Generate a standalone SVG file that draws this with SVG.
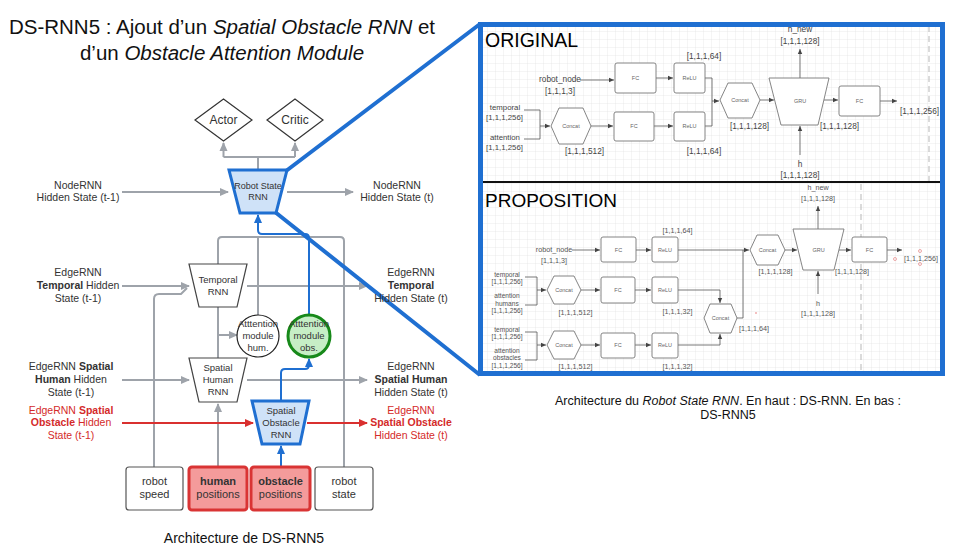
<svg xmlns="http://www.w3.org/2000/svg" width="958" height="550" viewBox="0 0 958 550">
<defs>
<style>
text{font-family:"Liberation Sans",Arial,sans-serif}
.t{font-size:10.5px;fill:#333;text-anchor:middle}
.tr{font-size:10.5px;fill:#d42a2a;text-anchor:middle}
.n{font-size:9.5px;fill:#333;text-anchor:middle}
.bx{font-size:11px;fill:#333;text-anchor:middle}
.b{font-weight:bold}
.i{font-style:italic}
.g{fill:none;stroke:#9ea3aa;stroke-width:2}
.bl{fill:none;stroke:#1f6fd1;stroke-width:2}
.rd{fill:none;stroke:#d9302f;stroke-width:2}
.trap{fill:#fff;stroke:#444;stroke-width:1.2}
.btrap{fill:#cfe2f8;stroke:#1f6fd1;stroke-width:3}
.red{fill:#f49b9b;stroke:#d93434;stroke-width:3}
.s{font-size:8.3px;fill:#444;text-anchor:middle}
.s2{font-size:7.8px;fill:#444;text-anchor:middle}
.p{font-size:7.2px;fill:#555;text-anchor:middle}
.q{font-size:6.6px;fill:#555;text-anchor:middle}
.tiny{font-size:5.5px;fill:#666;text-anchor:middle}
.box{fill:#fff;stroke:#777;stroke-width:0.9}
.ln{fill:none;stroke:#555;stroke-width:0.8}
.zoom{fill:none;stroke:#1f6fd1;stroke-width:4}
.dash{fill:none;stroke:#c4c4c4;stroke-width:1.2;stroke-dasharray:6 4}
</style>
<marker id="ag" markerWidth="10" markerHeight="10" refX="8" refY="5" orient="auto" markerUnits="userSpaceOnUse"><path d="M0,1 L9,5 L0,9 z" fill="#9ea3aa"/></marker>
<marker id="ab" markerWidth="10" markerHeight="10" refX="8" refY="5" orient="auto" markerUnits="userSpaceOnUse"><path d="M0,1 L9,5 L0,9 z" fill="#1f6fd1"/></marker>
<marker id="ar" markerWidth="10" markerHeight="10" refX="8" refY="5" orient="auto" markerUnits="userSpaceOnUse"><path d="M0,1 L9,5 L0,9 z" fill="#d9302f"/></marker>
<marker id="ak" markerWidth="6" markerHeight="6" refX="5" refY="3" orient="auto" markerUnits="userSpaceOnUse"><path d="M0,0.8 L5,3 L0,5.2 z" fill="#444"/></marker>
<pattern id="grid" width="8" height="8" patternUnits="userSpaceOnUse"><path d="M8,0 V8 M0,8 H8" stroke="#e3e3e3" stroke-width="0.7" fill="none"/></pattern>
</defs>
<rect width="958" height="550" fill="#fff"/>

<g id="title">
<text x="222" y="34" font-size="20.5" fill="#111" text-anchor="middle">DS-RNN5 : Ajout d’un <tspan class="i">Spatial Obstacle RNN</tspan> et</text>
<text x="222" y="60" font-size="20.5" fill="#111" text-anchor="middle">d’un <tspan class="i">Obstacle Attention Module</tspan></text>
</g>

<!-- Right panel background -->
<g id="panel">
<rect x="480" y="24" width="463" height="350" fill="#fff"/>
<rect x="480" y="24" width="463" height="350" fill="url(#grid)"/>
<path class="dash" d="M929,26 V181"/>
<path class="dash" d="M861,184 V372"/>
<path d="M482,182 H942" stroke="#111" stroke-width="2"/>
</g>

<!-- Left diagram connectors -->
<g id="connectors">
<path class="g" d="M258,170 V157 M223.5,157 H295"/>
<path class="g" d="M223.5,157 V143" marker-end="url(#ag)"/>
<path class="g" d="M295,157 V143" marker-end="url(#ag)"/>
<path class="g" d="M122,192 H228" marker-end="url(#ag)"/>
<path class="g" d="M287,192 H353" marker-end="url(#ag)"/>
<path class="g" d="M122,286 H189" marker-end="url(#ag)"/>
<path class="g" d="M247,286 H367" marker-end="url(#ag)"/>
<path class="g" d="M154,467 V299 Q154,294 159,294 H181 L187,288"/>
<path class="g" d="M344,467 V241 Q344,237 340,237 H222 Q218,237 218,241 V264"/>
<path class="g" d="M218,307 V358"/>
<path class="g" d="M218,335 H237" marker-end="url(#ag)"/>
<path class="g" d="M218,467 V404" marker-end="url(#ag)"/>
<path class="g" d="M258,315 V236"/>
<path class="g" d="M122,380 H189" marker-end="url(#ag)"/>
<path class="g" d="M247,380 H367" marker-end="url(#ag)"/>
<path class="bl" d="M309,315 V238 Q309,234 305,234 H262 Q258,234 258,230 V215" marker-end="url(#ab)"/>
<path class="bl" d="M281,467 V446" marker-end="url(#ab)"/>
<path class="bl" d="M281,401 V373 Q281,369 285,369 H305 Q309,369 309,365 V359" marker-end="url(#ab)"/>
<path class="rd" d="M122,423 H253" marker-end="url(#ar)"/>
<path class="rd" d="M307,423 H367" marker-end="url(#ar)"/>
<path class="zoom" d="M286,171 L480,24 M275,212 L480,375"/>
</g>

<g id="actor"><polygon points="195,120 223.5,99 252,120 223.5,141" fill="#fff" stroke="#333" stroke-width="1.2"/><text x="223.5" y="124" font-size="12" fill="#333" text-anchor="middle">Actor</text></g>
<g id="critic"><polygon points="267,120 295,99 323,120 295,141" fill="#fff" stroke="#333" stroke-width="1.2"/><text x="295" y="124" font-size="12" fill="#333" text-anchor="middle">Critic</text></g>

<g id="robot-state-rnn"><polygon class="btrap" points="229,170 287,170 276,213 240,213"/><text x="258" y="189" font-size="9" fill="#333" text-anchor="middle">Robot State</text><text x="258" y="200" font-size="9" fill="#333" text-anchor="middle">RNN</text></g>

<g id="node-labels">
<text class="t" x="78" y="189">NodeRNN</text><text class="t" x="78" y="201">Hidden State (t-1)</text>
<text class="t" x="397" y="189">NodeRNN</text><text class="t" x="397" y="201">Hidden State (t)</text>
<text class="t" x="78" y="276">EdgeRNN</text><text class="t" x="78" y="289"><tspan class="b">Temporal</tspan> Hidden</text><text class="t" x="78" y="302">State (t-1)</text>
<text class="t" x="411" y="276">EdgeRNN</text><text class="t b" x="411" y="289">Temporal</text><text class="t" x="411" y="302">Hidden State (t)</text>
<text class="t" x="71" y="370">EdgeRNN <tspan class="b">Spatial</tspan></text><text class="t" x="71" y="383"><tspan class="b">Human</tspan> Hidden</text><text class="t" x="71" y="396">State (t-1)</text>
<text class="t" x="411" y="370">EdgeRNN</text><text class="t b" x="411" y="383">Spatial Human</text><text class="t" x="411" y="396">Hidden State (t)</text>
<text class="tr" x="71" y="414">EdgeRNN <tspan class="b">Spatial</tspan></text><text class="tr" x="71" y="426"><tspan class="b">Obstacle</tspan> Hidden</text><text class="tr" x="71" y="439">State (t-1)</text>
<text class="tr" x="411" y="414">EdgeRNN</text><text class="tr b" x="411" y="426">Spatial Obstacle</text><text class="tr" x="411" y="439">Hidden State (t)</text>
</g>

<g id="temporal-rnn"><polygon class="trap" points="189,264 247,264 237,307 199,307"/><text class="n" x="218" y="283">Temporal</text><text class="n" x="218" y="295">RNN</text></g>
<g id="attention-hum"><circle cx="258" cy="336" r="21" fill="#fff" stroke="#222" stroke-width="1.2"/><text class="n" x="258" y="327">Atttention</text><text class="n" x="258" y="339">module</text><text class="n" x="258" y="351">hum.</text></g>
<g id="attention-obs"><circle cx="309" cy="336" r="21" fill="#c6eec6" stroke="#17891a" stroke-width="3"/><text class="n" x="309" y="327">Atttention</text><text class="n" x="309" y="339">module</text><text class="n" x="309" y="351">obs.</text></g>
<g id="spatial-human-rnn"><polygon class="trap" points="189,358 247,358 237,402 199,402"/><text class="n" x="218" y="371">Spatial</text><text class="n" x="218" y="383">Human</text><text class="n" x="218" y="395">RNN</text></g>
<g id="spatial-obstacle-rnn"><polygon class="btrap" points="252,401 309,401 300,444 262,444"/><text class="n" x="281" y="414">Spatial</text><text class="n" x="281" y="426">Obstacle</text><text class="n" x="281" y="438">RNN</text></g>

<g id="robot-speed"><rect x="126" y="467" width="57" height="43" rx="3" fill="#fff" stroke="#555" stroke-width="1.2"/><text class="bx" x="154.5" y="485">robot</text><text class="bx" x="154.5" y="498">speed</text></g>
<g id="human-positions"><rect class="red" x="189" y="467" width="58" height="43" rx="3"/><text class="bx b" x="218" y="485">human</text><text class="bx" x="218" y="498">positions</text></g>
<g id="obstacle-positions"><rect class="red" x="251" y="467" width="59" height="43" rx="3"/><text class="bx b" x="280.5" y="485">obstacle</text><text class="bx" x="280.5" y="498">positions</text></g>
<g id="robot-state"><rect x="315" y="467" width="58" height="43" rx="3" fill="#fff" stroke="#555" stroke-width="1.2"/><text class="bx" x="344" y="485">robot</text><text class="bx" x="344" y="498">state</text></g>

<text x="244" y="543" font-size="14" fill="#111" text-anchor="middle">Architecture de DS-RNN5</text>

<!-- ORIGINAL -->
<g id="original">
<text x="485" y="47" font-size="19.5" fill="#000">ORIGINAL</text>
<g class="ln">
<path d="M580,80 H614" marker-end="url(#ak)"/>
<path d="M656,78 H673" marker-end="url(#ak)"/>
<path d="M524,110 H540 V139 H524"/>
<path d="M540,126 H550" marker-end="url(#ak)"/>
<path d="M591,126 H613" marker-end="url(#ak)"/>
<path d="M654,126 H673" marker-end="url(#ak)"/>
<path d="M705,78 H712 V126 H705"/>
<path d="M712,101 H719" marker-end="url(#ak)"/>
<path d="M760,100 H774" marker-end="url(#ak)"/>
<path d="M800,78 V49" marker-end="url(#ak)"/>
<path d="M800,155 V126" marker-end="url(#ak)"/>
<path d="M824,100 H838" marker-end="url(#ak)"/>
<path d="M880,101 H897" marker-end="url(#ak)"/>
</g>
<text class="s" x="560" y="82">robot_node</text><text class="s" x="560" y="94">[1,1,1,3]</text>
<rect class="box" x="615" y="63" width="41" height="30" rx="2"/><text class="tiny" x="635.5" y="80">FC</text>
<rect class="box" x="674" y="63" width="31" height="30" rx="2"/><text class="tiny" x="689.5" y="80">ReLU</text>
<text class="s" x="704" y="59">[1,1,1,64]</text>
<text class="s2" x="505" y="110">temporal</text><text class="s2" x="504.5" y="120">[1,1,1,256]</text>
<text class="s2" x="505" y="140">attention</text><text class="s2" x="504.5" y="150">[1,1,1,256]</text>
<polygon class="box" points="551,126 559,108 583,108 591,126 583,144 559,144"/><text class="tiny" x="571" y="128">Concat</text>
<text class="s" x="584.5" y="154">[1,1,1,512]</text>
<rect class="box" x="614" y="112" width="40" height="29" rx="2"/><text class="tiny" x="634" y="128">FC</text>
<rect class="box" x="674" y="112" width="31" height="29" rx="2"/><text class="tiny" x="689.5" y="128">ReLU</text>
<text class="s" x="704" y="154">[1,1,1,64]</text>
<polygon class="box" points="720,100 728,83 752,83 760,100 752,118 728,118"/><text class="tiny" x="740" y="102">Concat</text>
<text class="s" x="749.5" y="129">[1,1,1,128]</text>
<polygon class="box" points="769,78 829,78 818,125 781,125"/><text class="tiny" x="800" y="103">GRU</text>
<text class="s" x="800" y="32">h_new</text><text class="s" x="800" y="44">[1,1,1,128]</text>
<text class="s" x="800" y="167">h</text><text class="s" x="800" y="178">[1,1,1,128]</text>
<text class="s" x="839.5" y="129">[1,1,1,128]</text>
<rect class="box" x="839" y="86" width="41" height="30" rx="2"/><text class="tiny" x="859.5" y="103">FC</text>
<text class="s" x="919.5" y="114">[1,1,1,256]</text>
</g>

<!-- PROPOSITION -->
<g id="proposition">
<text x="485" y="207" font-size="19" fill="#000">PROPOSITION</text>
<g class="ln">
<path d="M572,250 H600" marker-end="url(#ak)"/>
<path d="M636,250 H651" marker-end="url(#ak)"/>
<path d="M678,250 H749" marker-end="url(#ak)"/>
<path d="M785,250 H797" marker-end="url(#ak)"/>
<path d="M818,229 V206" marker-end="url(#ak)"/>
<path d="M818,294 V271" marker-end="url(#ak)"/>
<path d="M839,250 H851" marker-end="url(#ak)"/>
<path d="M887,250 H902" marker-end="url(#ak)"/>
<path d="M525,277 H537 V305 H525"/>
<path d="M537,290 H546" marker-end="url(#ak)"/>
<path d="M581,290 H600" marker-end="url(#ak)"/>
<path d="M635,290 H651" marker-end="url(#ak)"/>
<path d="M678,290 H720 V303" marker-end="url(#ak)"/>
<path d="M737,318 H743 V250"/>
<path d="M525,332 H537 V360 H525"/>
<path d="M537,345 H546" marker-end="url(#ak)"/>
<path d="M581,345 H600" marker-end="url(#ak)"/>
<path d="M635,345 H651" marker-end="url(#ak)"/>
<path d="M678,345 H720 V334" marker-end="url(#ak)"/>
</g>
<text class="p" x="677.5" y="233">[1,1,1,64]</text>
<text class="p" x="554" y="252">robot_node</text><text class="p" x="554" y="262.5">[1,1,1,3]</text>
<rect class="box" x="601" y="237" width="35" height="25" rx="2"/><text class="tiny" x="618.5" y="252">FC</text>
<rect class="box" x="652" y="237" width="26" height="25" rx="2"/><text class="tiny" x="665" y="252">ReLU</text>
<polygon class="box" points="750,250 757,235 778,235 785,250 778,265 757,265"/><text class="tiny" x="767.5" y="252">Concat</text>
<text class="p" x="775.5" y="273.5">[1,1,1,128]</text>
<polygon class="box" points="793,229 844,229 834,270 803,270"/><text class="tiny" x="818.5" y="252">GRU</text>
<text class="p" x="818" y="190">h_new</text><text class="p" x="818" y="200.5">[1,1,1,128]</text>
<text class="p" x="818" y="305.5">h</text><text class="p" x="818" y="315.5">[1,1,1,128]</text>
<text class="p" x="852" y="273.5">[1,1,1,128]</text>
<rect class="box" x="852" y="237" width="35" height="25" rx="2"/><text class="tiny" x="869.5" y="252">FC</text>
<text class="p" x="921" y="260.5">[1,1,1,256]</text>
<circle cx="920" cy="251" r="1.5" fill="none" stroke="#e07070" stroke-width="0.6"/>
<circle cx="895" cy="259" r="1.5" fill="none" stroke="#e07070" stroke-width="0.6"/>
<circle cx="920" cy="264" r="1.5" fill="none" stroke="#e07070" stroke-width="0.6"/>
<circle cx="756" cy="313" r="0.7" fill="#e05050"/>

<text class="q" x="507" y="276.5">temporal</text><text class="q" x="507" y="284">[1,1,1,256]</text>
<text class="q" x="507" y="298">attention</text><text class="q" x="507" y="305.5">humans</text><text class="q" x="507" y="313">[1,1,1,256]</text>
<polygon class="box" points="547,290 554,276 574,276 581,290 574,304 554,304"/><text class="tiny" x="564" y="292">Concat</text>
<text class="p" x="575.5" y="314.5">[1,1,1,512]</text>
<rect class="box" x="601" y="277" width="34" height="26" rx="2"/><text class="tiny" x="618" y="292">FC</text>
<rect class="box" x="652" y="277" width="26" height="26" rx="2"/><text class="tiny" x="665" y="292">ReLU</text>
<text class="p" x="677.5" y="313.5">[1,1,1,32]</text>
<polygon class="box" points="704,318 710,304 731,304 737,318 731,333 710,333"/><text class="tiny" x="720.5" y="320">Concat</text>
<text class="p" x="754" y="330.5">[1,1,1,64]</text>

<text class="q" x="507" y="331.5">temporal</text><text class="q" x="507" y="339">[1,1,1,256]</text>
<text class="q" x="507" y="352.5">attention</text><text class="q" x="507" y="360">obstacles</text><text class="q" x="507" y="367.5">[1,1,1,256]</text>
<polygon class="box" points="547,345 554,331 574,331 581,345 574,359 554,359"/><text class="tiny" x="564" y="347">Concat</text>
<text class="p" x="575.5" y="368.5">[1,1,1,512]</text>
<rect class="box" x="601" y="333" width="34" height="25" rx="2"/><text class="tiny" x="618" y="347">FC</text>
<rect class="box" x="652" y="333" width="26" height="25" rx="2"/><text class="tiny" x="665" y="347">ReLU</text>
<text class="p" x="677.5" y="368.5">[1,1,1,32]</text>
</g>

<rect x="480.5" y="24.5" width="462" height="349" fill="none" stroke="#1f6fd1" stroke-width="5"/>

<g id="caption-right">
<text x="728" y="405" font-size="12.5" fill="#111" text-anchor="middle">Architecture du <tspan class="i">Robot State RNN</tspan>. En haut : DS-RNN. En bas :</text>
<text x="728" y="419" font-size="12.5" fill="#111" text-anchor="middle">DS-RNN5</text>
</g>
</svg>
